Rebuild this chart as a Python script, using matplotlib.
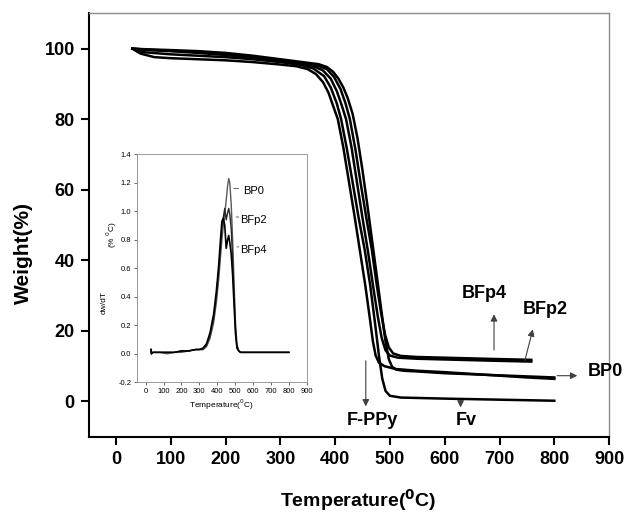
import matplotlib
matplotlib.use('Agg')
import matplotlib.pyplot as plt
from matplotlib import font_manager

# ---------------- main TGA curves (temperature in C, weight in %) ----------
t_fppy = [30, 45, 70, 100, 150, 200, 250, 300, 330, 350, 365, 378, 388, 397, 405,
          415, 425, 435, 445, 455, 463, 469, 474, 480, 490, 510, 550, 600, 650,
          700, 750, 800]
w_fppy = [100, 98.6, 97.6, 97.3, 97.0, 96.7, 96.2, 95.5, 95.0, 94.2, 92.8, 90.5,
          87.5, 83.5, 80, 72, 62.5, 53, 43, 33, 24, 17, 13, 11, 10, 9.2, 8.7, 8.3,
          7.8, 7.3, 6.8, 6.4]

t_fv = [30, 50, 100, 150, 200, 250, 300, 340, 360, 380, 392, 403, 411, 421, 431,
        443, 454, 464, 473, 480, 486, 492, 500, 520, 600, 700, 800]
w_fv = [100, 99.0, 98.4, 98.0, 97.6, 97.0, 96.2, 95.3, 94.4, 92.2, 89, 84.5, 80,
        72, 63, 52, 43, 33, 22, 13, 6.5, 3.0, 1.6, 1.1, 0.8, 0.5, 0.2]

t_bfp2 = [30, 60, 100, 150, 200, 250, 300, 340, 360, 378, 392, 403, 412, 420, 430,
          440, 450, 460, 470, 478, 485, 492, 500, 515, 550, 600, 700, 758]
w_bfp2 = [100, 99.6, 99.3, 98.8, 98.2, 97.4, 96.5, 95.7, 95.1, 93.8, 91.5, 88,
          84, 80, 72, 62, 52, 42.5, 32, 24, 18, 14.5, 13.0, 12.4, 12.1, 11.9,
          11.5, 11.3]

t_bfp4 = [30, 60, 100, 150, 200, 250, 300, 340, 365, 385, 398, 410, 419, 427, 437,
          447, 457, 467, 476, 484, 491, 498, 506, 520, 550, 600, 700, 758]
w_bfp4 = [100, 99.7, 99.4, 99.0, 98.5, 97.7, 96.8, 96.0, 95.4, 94.2, 92, 88.5,
          84.5, 80, 71.5, 61.5, 52, 43, 33, 25, 19, 15.3, 13.6, 12.9, 12.6, 12.4,
          12.0, 11.8]

t_bp0 = [30, 60, 100, 150, 200, 250, 300, 340, 370, 385, 396, 406, 415, 423, 432,
         441, 450, 459, 468, 477, 485, 492, 498, 504, 512, 525, 550, 600, 700, 800]
w_bp0 = [100, 99.8, 99.6, 99.3, 98.8, 98.0, 97.0, 96.2, 95.6, 94.8, 93.5, 91.5,
         89, 86, 81.5, 74.5, 65.5, 55.5, 45, 34.5, 25, 17, 12, 9.8, 9.0, 8.7,
         8.5, 8.0, 7.4, 6.8]

# ---------------- inset DTG curves (temperature in C, dw/dT) ---------------
dt_t = [30, 32, 40, 80, 120, 160, 200, 240, 280, 300, 320, 340, 360, 380, 395,
        408, 418, 426, 434, 442, 450, 458, 464, 470, 478, 486, 494, 502, 510,
        520, 530, 560, 650, 750, 800]
dt_bp0 = [0.03, 0.0, 0.01, 0.01, 0.0, 0.01, 0.01, 0.02, 0.03, 0.03, 0.03, 0.05,
          0.11, 0.22, 0.36, 0.52, 0.68, 0.80, 0.90, 0.98, 1.08, 1.18, 1.23, 1.20,
          1.05, 0.80, 0.50, 0.22, 0.07, 0.02, 0.01, 0.01, 0.01, 0.01, 0.01]
dt_bfp2 = [0.03, 0.0, 0.01, 0.01, 0.01, 0.01, 0.02, 0.02, 0.03, 0.03, 0.03, 0.06,
           0.13, 0.25, 0.40, 0.57, 0.74, 0.88, 0.96, 1.02, 0.94, 0.99, 1.02, 0.98,
           0.88, 0.66, 0.40, 0.17, 0.05, 0.02, 0.01, 0.01, 0.01, 0.01, 0.01]
dt_bfp4 = [0.03, 0.0, 0.01, 0.01, 0.01, 0.01, 0.02, 0.02, 0.03, 0.03, 0.04, 0.07,
           0.15, 0.28, 0.44, 0.62, 0.80, 0.93, 0.95, 0.90, 0.74, 0.80, 0.83, 0.78,
           0.70, 0.55, 0.34, 0.14, 0.04, 0.02, 0.01, 0.01, 0.01, 0.01, 0.01]

# pick an Arial-like family, narrow one for the inset if present
names = set(f.name for f in font_manager.fontManager.ttflist)
main_font = 'Liberation Sans' if 'Liberation Sans' in names else 'DejaVu Sans'
narrow_font = 'Liberation Sans Narrow' if 'Liberation Sans Narrow' in names else main_font
plt.rcParams['font.family'] = main_font

fig = plt.figure(figsize=(6.26, 5.15), dpi=100)
ax = fig.add_axes([0.1414, 0.152, 0.8316, 0.822])

for t, w in [(t_fppy, w_fppy), (t_fv, w_fv), (t_bfp2, w_bfp2),
             (t_bfp4, w_bfp4), (t_bp0, w_bp0)]:
    ax.plot(t, w, color='black', lw=1.8)

ax.set_xlim(-50, 900)
ax.set_ylim(-10, 110)
ax.set_xticks(range(0, 901, 100))
ax.set_yticks(range(0, 101, 20))
ax.tick_params(direction='out', length=6, width=1.5, labelsize=13, pad=4)
for lab in ax.get_xticklabels() + ax.get_yticklabels():
    lab.set_fontweight('bold')
for s in ['left', 'bottom']:
    ax.spines[s].set_linewidth(1.5)
for s in ['top', 'right']:
    ax.spines[s].set_color('0.55')
    ax.spines[s].set_linewidth(1.0)
ax.set_xlabel('Temperature($\\mathbf{^0}$C)', fontsize=14, fontweight='bold')
ax.set_ylabel('Weight(%)', fontsize=15, fontweight='bold')
ax.xaxis.set_label_coords(0.518, -0.118)
ax.yaxis.set_label_coords(-0.107, 0.435)

# labels with arrows
ap = dict(arrowstyle='-|>', color='0.25', lw=0.8, mutation_scale=10)
ax.annotate('', xy=(690, 25.5), xytext=(690, 13.8), arrowprops=ap)
ax.text(672, 30.7, 'BFp4', fontsize=13, fontweight='bold', ha='center', va='center')
ax.annotate('', xy=(762, 21.2), xytext=(745, 10.8), arrowprops=ap)
ax.text(784, 26.1, 'BFp2', fontsize=13, fontweight='bold', ha='center', va='center')
ax.annotate('', xy=(847, 7.3), xytext=(800, 7.3), arrowprops=ap)
ax.text(861, 8.4, 'BP0', fontsize=13, fontweight='bold', ha='left', va='center')
ax.annotate('', xy=(629, -2.5), xytext=(629, 0.85), arrowprops=ap)
ax.text(640, -5.3, 'Fv', fontsize=13, fontweight='bold', ha='center', va='center')
ax.annotate('', xy=(456, -2.2), xytext=(456, 12.3), arrowprops=ap)
ax.text(468, -5.3, 'F-PPy', fontsize=13, fontweight='bold', ha='center', va='center')

# ---------------- inset -----------------
ins = fig.add_axes([0.2184, 0.2577, 0.2716, 0.4427])
ins.plot(dt_t, dt_bp0, color='0.35', lw=1.0)
ins.plot(dt_t, dt_bfp2, color='0.15', lw=1.0)
ins.plot(dt_t, dt_bfp4, color='black', lw=1.2)
ins.set_xlim(-50, 900)
ins.set_ylim(-0.2, 1.4)
ins.set_xticks(range(0, 901, 100))
ins.set_yticks([-0.2, 0.0, 0.2, 0.4, 0.6, 0.8, 1.0, 1.2, 1.4])
ins.set_yticklabels(['-0.2', '0.0', '0.2', '0.4', '0.6', '0.8', '1.0', '1.2', '1.4'])
ins.tick_params(direction='out', length=2.5, width=0.6, labelsize=5.5, pad=1.5,
                colors='0.3', labelcolor='black')
for lab in ins.get_xticklabels() + ins.get_yticklabels():
    lab.set_family(narrow_font)
for s in ins.spines.values():
    s.set_color('0.6')
    s.set_linewidth(0.7)
ins.set_xlabel('Temperature($^0$C)', fontsize=6, family=narrow_font, labelpad=2)
ins.text(-0.19, 0.352, 'dw/dT', transform=ins.transAxes, rotation=90, fontsize=6,
         family=narrow_font, ha='center', va='center')
ins.text(-0.148, 0.646, '(% $^0$C)', transform=ins.transAxes, rotation=90, fontsize=6,
         family=narrow_font, ha='center', va='center')

lp = dict(arrowstyle='-', color='0.3', lw=0.6)
ins.annotate('', xy=(535, 1.16), xytext=(478, 1.16), arrowprops=lp)
ins.text(545, 1.14, 'BP0', fontsize=8, family=narrow_font, va='center')
ins.annotate('', xy=(520, 0.96), xytext=(490, 0.96), arrowprops=lp)
ins.text(530, 0.94, 'BFp2', fontsize=8, family=narrow_font, va='center')
ins.annotate('', xy=(520, 0.75), xytext=(495, 0.75), arrowprops=lp)
ins.text(530, 0.73, 'BFp4', fontsize=8, family=narrow_font, va='center')

fig.savefig('out.png', dpi=100)
